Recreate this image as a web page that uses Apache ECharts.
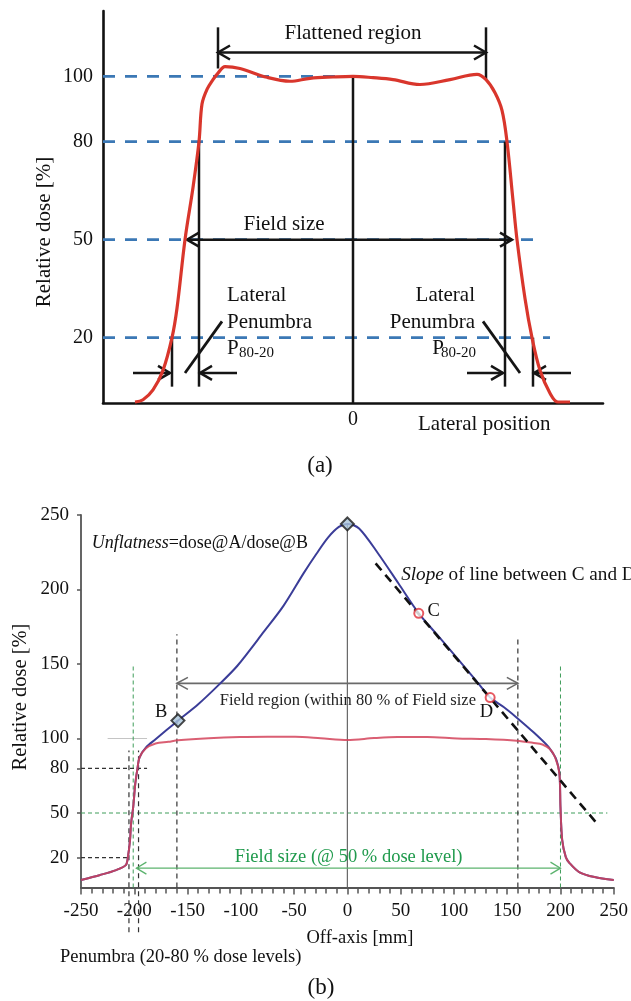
<!DOCTYPE html>
<html><head><meta charset="utf-8">
<script src="https://cdn.jsdelivr.net/npm/echarts@6/dist/echarts.min.js"></script>
<style>html,body{margin:0;padding:0;background:#fff}#c{width:631px;height:1001px}</style>
</head><body><div id="c"></div>
<script>
const F = '"Liberation Serif", "Times New Roman", serif';

// ===== Panel (a) =====
const aX = [-218,-210,-200,-190,-181,-176,-168,-160,-154,-151,-146,-140,-135,-128,-113,-86,-63,-43,-20,0,20,40,67,97,124,133,142,149,154,160,164,172,179,187,197,205,217];
const aY = [0.3,1,4,10,20,29,50,66,80,91.5,96,99,101,103,102.4,99.7,98.5,99.4,99.8,100,99.6,99,97.5,99,100.6,99,95,89.6,80,62,50,32,20,10,3,0.3,0.3];
const aTickLabels = [20,50,80,100];
const aRefLevels = [100,80,50,20];
const aRefEnds = [0,164,180,197];
const aVLines = [[0,0,100],[-154,5,80],[-181,5,20],[152,5,80],[180,5,20],[-135,102.4,115],[133,99,115]];
const aArrows = [[-135,107.3,133,107.3,2],[-166,50,159,50,2],[-220,9.2,-183,9.2,1],[-116,9.2,-153,9.2,1],[114,9.2,150,9.2,1],[218,9.2,181,9.2,1]];
const aSlashes = [[-131,25,-168,9.2],[130,25,167,9.2]];

// ===== Panel (b) =====
const bRedX = [-250,-232,-217,-208,-206,-204,-203,-201,-199,-197,-195,-189,-180,-168,-159,-130,-101,-75,-49,-25,0,25,47,75,103,130,159,175,183,190,195,199,200,201.6,205,208.5,217.5,232,250];
const bRedY = [5,8.4,11.7,15,20.4,31.8,43,54,70,80,87.4,93.4,96.7,97.8,98.8,100.2,101,101.2,101.2,100.2,99,100.3,101,101,100,99.6,98.5,97,96,93,87.4,76.6,54,32,20.4,16.4,10.4,7,5];
const bBlueX = [-250,-232,-217,-208,-206,-204,-203,-201,-199,-197,-195,-189,-180,-170,-159,-140,-120,-103,-78,-60,-41,-29,-18,-8,0,11,29,48,67,85,103,120,134,147,159,175,188,193,196,199,200,201.6,205,208.5,217.5,232,250];
const bBlueY = [5,8.4,11.7,15,20.4,31.8,43,54,70,80,87.4,94,99.5,105.5,112,123,136.5,149,172,189,211,224,235,242,244,241,224,204,184,169,154,139.5,127.5,121,114,104,95,90,86,76.6,54,32,20.4,16.4,10.4,7,5];
const bYTicks = [20,50,80,100,150,200,250];
const bDiamonds = [[0,244],[-159,112]];
const bCircles = [[67,184],[134,127.5]];
const bSlope = [[26.5,217.5],[236,41.5]];
const bFieldRegion = [-160,160,137];
const bFieldSize = [-198,200,13];
const bGreenV = [[-201,0,150],[200,0,149]];
const bGreenH = [-250,244,50];
const bBlackV = [[-160,0,170],[160,0,167],[-205,-30,92],[-196,-30,92]];
const bBlackH = [[-250,-188,80],[-250,-206,20]];
const bCenter = [0,0,244];

function seg(p1,p2,stroke,w,dash){return {type:'line',shape:{x1:p1[0],y1:p1[1],x2:p2[0],y2:p2[1]},style:{stroke:stroke,lineWidth:w,lineDash:dash||null,fill:null}};}
function head(tip,from,len,half,stroke,w){
  const dx=tip[0]-from[0], dy=tip[1]-from[1]; const L=Math.hypot(dx,dy)||1; const ux=dx/L, uy=dy/L, nx=-uy, ny=ux;
  const bx=tip[0]-ux*len, by=tip[1]-uy*len;
  return {type:'polyline',shape:{points:[[bx+nx*half,by+ny*half],[tip[0],tip[1]],[bx-nx*half,by-ny*half]]},style:{stroke:stroke,lineWidth:w,fill:null}};
}
function arrow(p1,p2,both,stroke,w,len,half){const o=[seg(p1,p2,stroke,w),head(p2,p1,len,half,stroke,w)]; if(both) o.push(head(p1,p2,len,half,stroke,w)); return o;}
function txt(p,text,size,align,color,extra){return {type:'text',x:p[0],y:p[1],style:Object.assign({text:text,fontSize:size,fontFamily:F,fill:color||'#111',align:align||'left',verticalAlign:'middle'},extra||{})};}

function renderA(params, api){
  const c=(x,y)=>api.coord([x,y]); const ch=[];
  aRefLevels.forEach((lv,i)=>ch.push(seg(c(-250,lv),c(aRefEnds[i],lv),'#3b78b5',2.6,[12,10])));
  aVLines.forEach(v=>ch.push(seg(c(v[0],v[1]),c(v[0],v[2]),'#151515',2.5)));
  aArrows.forEach(a=>ch.push(...arrow(c(a[0],a[1]),c(a[2],a[3]),a[4]===2,'#151515',2.5,12,7)));
  aSlashes.forEach(s=>ch.push(seg(c(s[0],s[1]),c(s[2],s[3]),'#151515',2.8)));
  ch.push(txt(c(0,113),'Flattened region',21,'center'));
  ch.push(txt(c(-69,54.7),'Field size',21,'center'));
  ch.push(txt(c(-126,33),'Lateral',21,'left'));
  ch.push(txt(c(-126,24.8),'Penumbra',21,'left'));
  const pl=c(-126,16.8); ch.push(txt(pl,'P',21,'left')); ch.push(txt([pl[0]+12,pl[1]+5],'80-20',15,'left'));
  ch.push(txt(c(122,33),'Lateral',21,'right'));
  ch.push(txt(c(122,24.8),'Penumbra',21,'right'));
  const pr=c(123,16.8); ch.push(txt([pr[0],pr[1]+5],'80-20',15,'right')); ch.push(txt([pr[0]-32,pr[1]],'P',21,'right'));
  ch.push(txt(c(65,-6.7),'Lateral position',21,'left'));
  return {type:'group',children:ch};
}

function renderB(params, api){
  const c=(x,y)=>api.coord([x,y]); const ch=[];
  ch.push(seg(c(-225,100),c(-188,100),'#c4c4c4',1));
  ch.push(seg(c(bGreenH[0],bGreenH[2]),c(bGreenH[1],bGreenH[2]),'#3f9d5a',1,[4,3]));
  bGreenV.forEach(v=>ch.push(seg(c(v[0],v[1]),c(v[0],v[2]),'#3f9d5a',1,[4,3])));
  bBlackV.forEach(v=>ch.push(seg(c(v[0],v[1]),c(v[0],v[2]),'#333',1.2,[5,4])));
  bBlackH.forEach(h=>ch.push(seg(c(h[0],h[2]),c(h[1],h[2]),'#333',1.3,[4,3])));
  ch.push(seg(c(bCenter[0],bCenter[1]),c(bCenter[0],bCenter[2]),'#666',1.2));
  ch.push(...arrow(c(bFieldRegion[0],bFieldRegion[2]),c(bFieldRegion[1],bFieldRegion[2]),true,'#6a6a6a',1.6,11,6));
  ch.push(...arrow(c(bFieldSize[0],bFieldSize[2]),c(bFieldSize[1],bFieldSize[2]),true,'#5cb36e',1.3,10,6));
  ch.push(txt(c(-240,231),'{i|Unflatness}{n|=dose@A/dose@B}',18,'left','#111',{rich:{i:{fontStyle:'italic',fontSize:18,fontFamily:F,fill:'#111'},n:{fontSize:18,fontFamily:F,fill:'#111'}}}));
  ch.push(txt(c(50.5,210),'{i|Slope}{n| of line between C and D}',19.2,'left','#111',{rich:{i:{fontStyle:'italic',fontSize:19.2,fontFamily:F,fill:'#111'},n:{fontSize:19.2,fontFamily:F,fill:'#111'}}}));
  ch.push(txt(c(-180.5,117.7),'B',18.5,'left'));
  ch.push(txt(c(75.3,185.7),'C',18.5,'left'));
  ch.push(txt(c(124.3,117.7),'D',18.5,'left'));
  ch.push(txt(c(-119.7,125.6),'Field region (within 80 % of Field size',16.5,'left','#222'));
  ch.push(txt(c(-105.6,20.6),'Field size (@ 50 % dose level)',18.5,'left','#1f9a4c'));
  return {type:'group',children:ch};
}

const chart = echarts.init(document.getElementById('c'), null, {renderer:'canvas'});
chart.setOption({
  animation:false,
  backgroundColor:'#fff',
  grid:[
    {left:103, top:11, width:500, height:392},
    {left:81, top:515, width:541, height:372.5}
  ],
  xAxis:[
    {gridIndex:0, type:'value', min:-250, max:250, interval:250,
     axisLine:{lineStyle:{color:'#111',width:2.6}}, axisTick:{show:false}, splitLine:{show:false},
     axisLabel:{formatter:v=>v===0?'0':'', fontSize:20, fontFamily:F, color:'#111', margin:7}},
    {gridIndex:1, type:'value', min:-250, max:250, interval:50,
     axisLine:{lineStyle:{color:'#555',width:1.8}}, axisTick:{length:7, lineStyle:{color:'#555',width:1.5}},
     minorTick:{show:true, splitNumber:5, length:6, lineStyle:{color:'#555',width:1.5}}, splitLine:{show:false}, minorSplitLine:{show:false},
     axisLabel:{fontSize:19, fontFamily:F, color:'#111', margin:14}}
  ],
  yAxis:[
    {gridIndex:0, type:'value', min:0, max:120, interval:10,
     axisLine:{onZero:false, lineStyle:{color:'#111',width:2.6}}, axisTick:{show:false}, splitLine:{show:false},
     axisLabel:{customValues:aTickLabels, fontSize:20, fontFamily:F, color:'#111', margin:10}},
    {gridIndex:1, type:'value', min:0, max:250, interval:10,
     axisLine:{onZero:false, lineStyle:{color:'#555',width:1.8}}, axisTick:{customValues:bYTicks, length:4, lineStyle:{color:'#555',width:1.5}}, splitLine:{show:false},
     axisLabel:{customValues:bYTicks, fontSize:19, fontFamily:F, color:'#111', margin:12}}
  ],
  series:[
    {type:'custom', xAxisIndex:0, yAxisIndex:0, data:[[0,0]], renderItem:renderA, z:1, silent:true},
    {type:'line', xAxisIndex:0, yAxisIndex:0, data:aX.map((x,i)=>[x,aY[i]]), smooth:0.35, showSymbol:false, lineStyle:{color:'#d9362c',width:3.2}, z:2, silent:true},
    {type:'custom', xAxisIndex:1, yAxisIndex:1, data:[[0,0]], renderItem:renderB, z:1, silent:true},
    {type:'line', xAxisIndex:1, yAxisIndex:1, data:bBlueX.map((x,i)=>[x,bBlueY[i]]), smooth:0.3, showSymbol:false, lineStyle:{color:'#3b3d98',width:2}, z:2, silent:true},
    {type:'line', xAxisIndex:1, yAxisIndex:1, data:bRedX.map((x,i)=>[x,bRedY[i]]), smooth:0.3, showSymbol:false, lineStyle:{color:'#d4435a',width:2,opacity:0.85}, z:3, silent:true},
    {type:'line', xAxisIndex:1, yAxisIndex:1, data:bSlope, showSymbol:false, lineStyle:{color:'#111',width:2.6,type:[9,6]}, z:4, silent:true},
    {type:'scatter', xAxisIndex:1, yAxisIndex:1, data:bDiamonds, symbol:'diamond', symbolSize:13, itemStyle:{color:'#a9c4d9',borderColor:'#1a1a1a',borderWidth:2}, z:5, silent:true},
    {type:'scatter', xAxisIndex:1, yAxisIndex:1, data:bCircles, symbol:'circle', symbolSize:9, itemStyle:{color:'#fff',borderColor:'#e0303a',borderWidth:2}, z:5, silent:true}
  ],
  graphic:[
    {type:'text', x:44, y:232, rotation:Math.PI/2, style:{text:'Relative dose [%]', fontSize:21, fontFamily:F, fill:'#111', align:'center', verticalAlign:'middle'}},
    {type:'text', x:320, y:466, style:{text:'(a)', fontSize:23, fontFamily:F, fill:'#111', align:'center', verticalAlign:'middle'}},
    {type:'text', x:21, y:697, rotation:Math.PI/2, style:{text:'Relative dose [%]', fontSize:20.5, fontFamily:F, fill:'#111', align:'center', verticalAlign:'middle'}},
    {type:'text', x:360, y:938, style:{text:'Off-axis [mm]', fontSize:18.5, fontFamily:F, fill:'#111', align:'center', verticalAlign:'middle'}},
    {type:'text', x:60, y:957, style:{text:'Penumbra (20-80 % dose levels)', fontSize:18.5, fontFamily:F, fill:'#111', align:'left', verticalAlign:'middle'}},
    {type:'text', x:321, y:988, style:{text:'(b)', fontSize:23, fontFamily:F, fill:'#111', align:'center', verticalAlign:'middle'}}
  ]
});
</script></body></html>
